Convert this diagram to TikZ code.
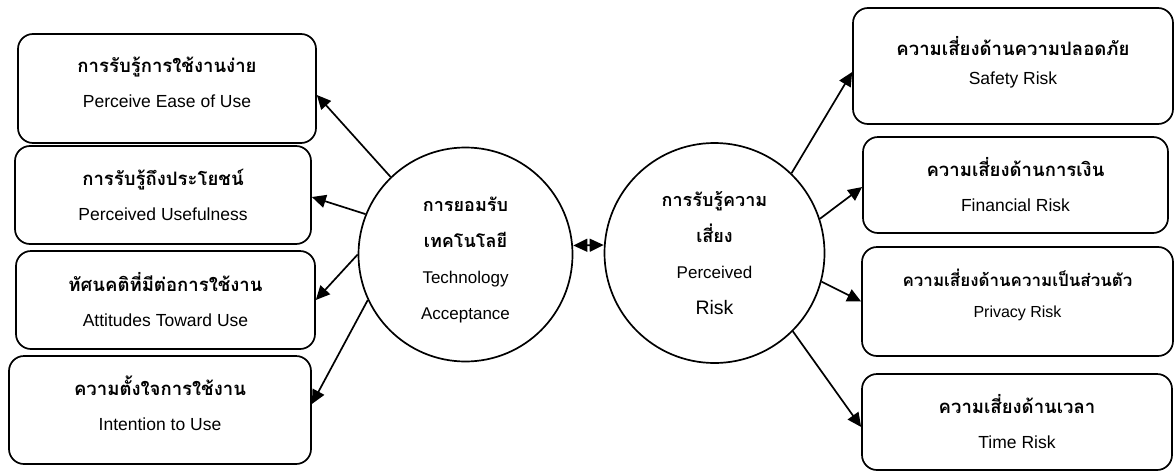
\documentclass[tikz,border=0pt]{standalone}
\usepackage{fontspec}
\setmainfont{Liberation Sans}
\newfontfamily\thaifont[Script=Thai,Scale=1.06]{Loma}
\usetikzlibrary{arrows.meta}
\tikzset{>={Triangle[length=14pt,width=13pt]}}
\tikzset{
  box/.style={draw, line width=1.7pt, rounded corners=15pt, align=center,
    font=\fontsize{17.5}{35}\selectfont},
  hub/.style={draw, circle, line width=1.7pt, inner sep=0pt, align=center,
    font=\fontsize{17}{36}\selectfont},
  link/.style={->, line width=1.7pt}
}
\newcommand{\thb}[1]{{\thaifont\bfseries #1}}

\begin{document}
\begin{tikzpicture}[x=1pt,y=-1pt]
  \useasboundingbox (0,0) rectangle (1174,474);
  % left side
  \node[box, minimum width=298pt, minimum height=109pt, text depth=12pt] (ease) at (167,88.5)
    {\thb{การรับรู้การใช้งานง่าย}\\Perceive Ease of Use};
  \node[box, minimum width=296pt, minimum height=98pt] (useful) at (163,195)
    {\thb{การรับรู้ถึงประโยชน์}\\Perceived Usefulness};
  \node[box, minimum width=299pt, minimum height=98pt] (attitude) at (165.5,300)
    {\thb{ทัศนคติที่มีต่อการใช้งาน}\\Attitudes Toward Use};
  \node[box, minimum width=302pt, minimum height=108pt, text depth=14pt] (intention) at (160,410)
    {\thb{ความตั้งใจการใช้งาน}\\Intention to Use};
  % centre
  \node[hub, minimum size=214pt, text height=134pt] (accept) at (465.5,254.5)
    {\thb{การยอมรับ}\\\thb{เทคโนโลยี}\\Technology\\Acceptance};
  \node[hub, minimum size=220pt] (risk) at (714.5,253)
    {\thb{การรับรู้ความ}\\\thb{เสี่ยง}\\Perceived\\{\fontsize{19.5}{36}\selectfont Risk}};
  % right side
  \node[box, minimum width=320pt, minimum height=116pt, text depth=12pt,
    font=\fontsize{17.5}{29}\selectfont] (safety) at (1013,66)
    {\thb{ความเสี่ยงด้านความปลอดภัย}\\Safety Risk};
  \node[box, minimum width=305pt, minimum height=96pt] (finance) at (1015.5,185)
    {\thb{ความเสี่ยงด้านการเงิน}\\Financial Risk};
  \node[box, minimum width=311pt, minimum height=109pt, text depth=17pt,
    font=\fontsize{16}{31}\selectfont] (privacy) at (1017.5,301.5)
    {\thb{ความเสี่ยงด้านความเป็นส่วนตัว}\\Privacy Risk};
  \node[box, minimum width=310pt, minimum height=96pt] (time) at (1017,422)
    {\thb{ความเสี่ยงด้านเวลา}\\Time Risk};
  % connectors
  \draw[link] (accept.134) -- ([yshift=-6.5pt]ease.east);
  \draw[link] (accept.158) -- ([yshift=-2pt]useful.east);
  \draw[link] (accept.west) -- (attitude.east);
  \draw[link] (accept.205) -- ([yshift=6pt]intention.east);
  \draw[link, <->] ([yshift=9pt]accept.east) -- ([yshift=8pt]risk.west);
  \draw[link] (risk.46) -- ([yshift=-6pt]safety.west);
  \draw[link] (risk.18) -- ([yshift=-2pt]finance.west);
  \draw[link] (risk.-15) -- (privacy.west);
  \draw[link] (risk.-45) -- ([yshift=-5pt]time.west);
\end{tikzpicture}
\end{document}
